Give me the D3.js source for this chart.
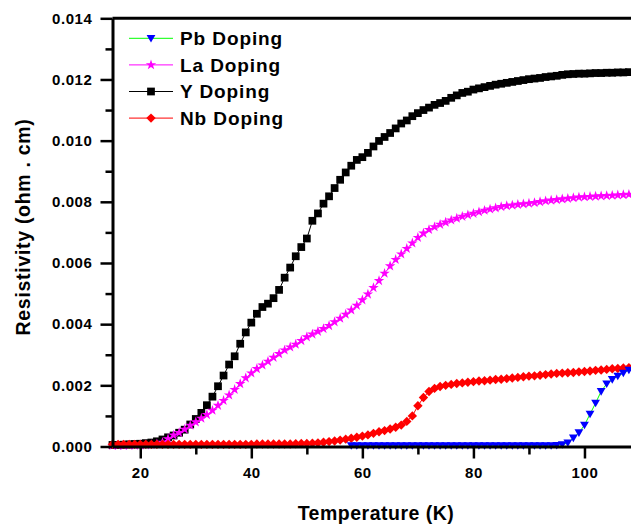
<!DOCTYPE html>
<html>
<head>
<meta charset="utf-8">
<script src="https://cdn.jsdelivr.net/npm/d3@7/dist/d3.min.js"></script>
<style>
  html, body { margin: 0; padding: 0; background: #fff; }
  svg { display: block; }
  text { font-family: "Liberation Sans", Arial, Helvetica, sans-serif; font-weight: bold; fill: #000; }
</style>
</head>
<body>
<svg id="chart" width="631" height="524"></svg>
<script>
// Temperature grid (K) shared by the Y, La and Nb series
const temps = [15,16,17,18,19,20,21,22,23,24,25,26,27,28,29,30,31,32,33,34,35,36,37,38,39,40,41,42,43,44,
  45,46,47,48,49,50,51,52,53,54,55,56,57,58,59,60,61,62,63,64,65,66,67,68,69,70,71,72,73,74,
  75,76,77,78,79,80,81,82,83,84,85,86,87,88,89,90,91,92,93,94,95,96,97,98,99,100,101,102,103,104,
  105,106,107,108];

// Resistivity (ohm . cm)
const yDoping = [
  0.00005,0.00005,0.00006,0.00007,0.00008,0.00009,0.00011,0.00013,0.00017,0.00023,
  0.00030,0.00036,0.00045,0.00055,0.00072,0.00090,0.00110,0.00135,0.00163,0.00197,
  0.00232,0.00268,0.00295,0.00336,0.00373,0.00405,0.00434,0.00456,0.00467,0.00485,
  0.00512,0.00552,0.00585,0.00622,0.00652,0.00680,0.00738,0.00762,0.00794,0.00818,
  0.00845,0.00872,0.00896,0.00918,0.00937,0.00946,0.00960,0.00981,0.00999,0.01012,
  0.01025,0.01040,0.01056,0.01066,0.01080,0.01090,0.01100,0.01108,0.01117,0.01123,
  0.01130,0.01140,0.01148,0.01156,0.01160,0.01167,0.01171,0.01175,0.01179,0.01183,
  0.01186,0.01189,0.01192,0.01195,0.01198,0.01201,0.01203,0.01205,0.01208,0.01210,
  0.01212,0.01215,0.01217,0.01218,0.01219,0.01219,0.01220,0.01221,0.01221,0.01222,
  0.01222,0.01223,0.01223,0.01224];

const laDoping = [
  0.00003,0.00003,0.00003,0.00004,0.00004,0.00005,0.00005,0.00006,0.00008,0.00013,
  0.00025,0.00037,0.00045,0.00056,0.00069,0.00080,0.00092,0.00104,0.00118,0.00134,
  0.00150,0.00168,0.00186,0.00205,0.00224,0.00240,0.00254,0.00266,0.00278,0.00291,
  0.00303,0.00315,0.00325,0.00334,0.00346,0.00358,0.00367,0.00376,0.00385,0.00395,
  0.00407,0.00419,0.00432,0.00446,0.00461,0.00479,0.00498,0.00519,0.00542,0.00566,
  0.00590,0.00611,0.00629,0.00647,0.00665,0.00683,0.00697,0.00709,0.00718,0.00726,
  0.00733,0.00740,0.00746,0.00752,0.00757,0.00762,0.00767,0.00772,0.00776,0.00780,
  0.00784,0.00787,0.00789,0.00791,0.00793,0.00795,0.00797,0.00800,0.00803,0.00805,
  0.00807,0.00809,0.00811,0.00813,0.00815,0.00816,0.00817,0.00818,0.00819,0.00820,
  0.00821,0.00822,0.00823,0.00824];

const nbDoping = [
  0.00007,0.00007,0.00007,0.00007,0.00007,0.00007,0.00007,0.00007,0.00007,0.00007,
  0.00007,0.00007,0.00007,0.00007,0.00007,0.00007,0.00007,0.00007,0.00007,0.00007,
  0.00007,0.00007,0.00007,0.00007,0.00007,0.00007,0.00008,0.00008,0.00008,0.00008,
  0.00008,0.00008,0.00008,0.00009,0.00010,0.00010,0.00011,0.00012,0.00014,0.00016,
  0.00018,0.00021,0.00024,0.00027,0.00030,0.00034,0.00038,0.00043,0.00048,0.00052,
  0.00057,0.00063,0.00070,0.00082,0.00100,0.00133,0.00160,0.00180,0.00190,0.00196,
  0.00200,0.00203,0.00206,0.00208,0.00210,0.00212,0.00214,0.00215,0.00217,0.00219,
  0.00220,0.00222,0.00224,0.00226,0.00228,0.00230,0.00231,0.00233,0.00235,0.00237,
  0.00239,0.00240,0.00241,0.00242,0.00244,0.00245,0.00247,0.00249,0.00250,0.00252,
  0.00254,0.00255,0.00257,0.00258];

// The Pb sample is measured on a shorter temperature range
const pbTemps = [58,59,60,61,62,63,64,65,66,67,68,69,70,71,72,73,74,75,76,77,78,79,80,81,82,83,
  84,85,86,87,88,89,90,91,92,93,94,95,96,97,98,99,100,101,102,103,104,105,106,107,108];
const pbDoping = [
  0.00003,0.00003,0.00003,0.00003,0.00003,0.00003,0.00003,0.00003,0.00003,0.00003,
  0.00003,0.00003,0.00003,0.00003,0.00003,0.00003,0.00003,0.00003,0.00003,0.00003,
  0.00003,0.00003,0.00003,0.00003,0.00003,0.00003,0.00003,0.00003,0.00003,0.00003,
  0.00003,0.00003,0.00003,0.00003,0.00003,0.00003,0.00003,0.00004,0.00006,0.00012,
  0.00028,0.00045,0.00070,0.00106,0.00142,0.00180,0.00205,0.00219,0.00230,0.00240,
  0.00250];

// Axis ticks
const xMajorTicks = [20, 40, 60, 80, 100];
const xMinorTicks = [30, 50, 70, 90];
const yMajorTicks = [0, 0.002, 0.004, 0.006, 0.008, 0.010, 0.012, 0.014];
const yMinorTicks = [0.001, 0.003, 0.005, 0.007, 0.009, 0.011, 0.013];

const legendLabels = ["Pb Doping", "La Doping", "Y Doping", "Nb Doping"];

const svg = d3.select("#chart");

const x = d3.scaleLinear().domain([15, 110]).range([112.5, 640]);
const y = d3.scaleLinear().domain([0, 0.014]).range([446.5, 18.3]);

// Marker shapes
const trianglePath = "M-4.4,-3.4L4.4,-3.4L0,4.2Z";
const diamondPath = "M0,-4.7L4.7,0L0,4.7L-4.7,0Z";
const squarePath = d3.symbol().type(d3.symbolSquare).size(60)();
const starPath = d3.symbol().type(d3.symbolStar).size(34)();

const series = {
  Pb: { xs: pbTemps, ys: pbDoping, line: "#00ff00", fill: "#0000ff", path: trianglePath },
  La: { xs: temps, ys: laDoping, line: "#ff00ff", fill: "#ff00ff", path: starPath },
  Y:  { xs: temps, ys: yDoping, line: "#000000", fill: "#000000", path: squarePath },
  Nb: { xs: temps, ys: nbDoping, line: "#ff0000", fill: "#ff0000", path: diamondPath }
};

const plot = svg.append("g");

function drawSeries(s) {
  const pts = s.xs.map((t, i) => [t, s.ys[i]]);
  plot.append("path")
    .datum(pts)
    .attr("fill", "none")
    .attr("stroke", s.line)
    .attr("stroke-width", 1)
    .attr("d", d3.line().x(d => x(d[0])).y(d => y(d[1])));
  plot.append("g")
    .selectAll("path")
    .data(pts)
    .join("path")
    .attr("d", s.path)
    .attr("fill", s.fill)
    .attr("transform", d => `translate(${x(d[0])},${y(d[1])})`);
}

// Draw order: Y, La, Nb, then Pb on top
drawSeries(series.Y);
drawSeries(series.La);
drawSeries(series.Nb);
drawSeries(series.Pb);

// Axes (drawn above the data)
const axisColor = "#000";

const xMinor = svg.append("g").attr("transform", `translate(0,${y(0)})`)
  .call(d3.axisBottom(x).tickValues(xMinorTicks).tickSize(8).tickFormat(""));
const xMajor = svg.append("g").attr("transform", `translate(0,${y(0)})`)
  .call(d3.axisBottom(x).tickValues(xMajorTicks).tickSize(12).tickSizeOuter(0).tickPadding(9));

const yMinor = svg.append("g").attr("transform", `translate(${x(15)},0)`)
  .call(d3.axisLeft(y).tickValues(yMinorTicks).tickSize(7).tickFormat(""));
const yMajor = svg.append("g").attr("transform", `translate(${x(15)},0)`)
  .call(d3.axisLeft(y).tickValues(yMajorTicks).tickSize(12).tickSizeOuter(0).tickPadding(8)
    .tickFormat(d3.format(".3f")));

[xMinor, yMinor].forEach(g => g.select(".domain").remove());
[xMinor, xMajor, yMinor, yMajor].forEach(g => {
  g.selectAll(".tick line").attr("stroke", axisColor).attr("stroke-width", 2.5);
  g.selectAll(".tick text")
    .style("font-size", "15px")
    .style("letter-spacing", "0.6px")
    .attr("fill", "#000");
});
[xMajor, yMajor].forEach(g => g.select(".domain").attr("stroke", axisColor).attr("stroke-width", 3));

// Top frame line
svg.append("line")
  .attr("x1", x(15)).attr("x2", x(110))
  .attr("y1", y(0.014)).attr("y2", y(0.014))
  .attr("stroke", axisColor).attr("stroke-width", 3);

// Axis titles
svg.append("text")
  .attr("x", 376).attr("y", 520)
  .attr("text-anchor", "middle")
  .style("font-size", "19.5px")
  .style("letter-spacing", "0.5px")
  .text("Temperature (K)");

svg.append("text")
  .attr("transform", `translate(30,227) rotate(-90)`)
  .attr("text-anchor", "middle")
  .style("font-size", "19.5px")
  .style("letter-spacing", "0.7px")
  .text("Resistivity (ohm . cm)");

// Legend
const legendKeys = ["Pb", "La", "Y", "Nb"];
const legend = svg.append("g");
legendKeys.forEach((k, i) => {
  const s = series[k];
  const cy = 38.3 + i * 26.6;
  legend.append("line")
    .attr("x1", 129).attr("x2", 173).attr("y1", cy).attr("y2", cy)
    .attr("stroke", s.line).attr("stroke-width", 1);
  legend.append("path")
    .attr("d", s.path)
    .attr("fill", s.fill)
    .attr("transform", `translate(151,${cy})`);
  legend.append("text")
    .attr("x", 180).attr("y", cy + 6.8)
    .style("font-size", "19px")
    .style("letter-spacing", "0.9px")
    .text(legendLabels[i]);
});
</script>
</body>
</html>
